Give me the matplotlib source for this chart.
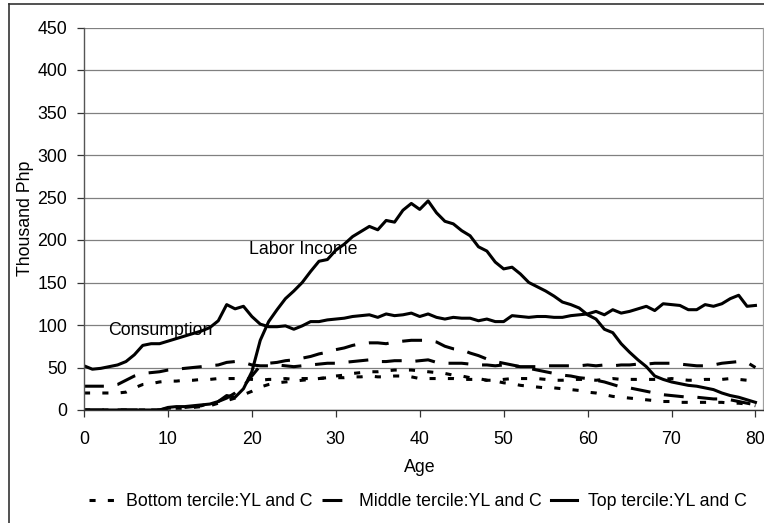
import numpy as np
import matplotlib
matplotlib.use("Agg")
import matplotlib.pyplot as plt
from matplotlib.lines import Line2D

plt.rcParams["font.family"] = ["Liberation Sans", "DejaVu Sans"]

# Age 0..80, thousand Php
ages = np.arange(0, 81)

bottom_yl = [0, 0, 0, 0, 0, 0, 0, 0, 0, 0,
             1, 2, 2, 3, 4, 5, 8, 11, 14, 18,
             22, 27, 30, 32, 33, 34, 35, 36, 37, 38,
             40, 41, 43, 44, 45, 45, 46, 47, 47, 47,
             46, 45, 44, 43, 41, 40, 38, 37, 35, 34,
             32, 31, 29, 28, 27, 26, 26, 25, 24, 23,
             21, 20, 18, 16, 15, 14, 13, 12, 11, 10,
             10, 9, 9, 9, 9, 9, 9, 8, 8, 7, 5]
bottom_c = [20, 20, 20, 20, 20, 21, 26, 30, 31, 33,
            34, 34, 35, 35, 36, 36, 37, 37, 37, 37,
            36, 35, 36, 36, 37, 36, 37, 37, 37, 38,
            38, 38, 39, 39, 40, 39, 39, 40, 40, 39,
            37, 37, 37, 37, 37, 36, 36, 36, 35, 35,
            36, 37, 37, 37, 37, 36, 35, 35, 36, 36,
            36, 35, 36, 37, 36, 36, 36, 36, 36, 36,
            37, 36, 35, 35, 36, 36, 36, 37, 36, 35, 34]

middle_yl = [0, 0, 0, 0, 0, 0, 0, 0, 0, 0,
             2, 3, 3, 4, 5, 8, 10, 14, 20, 28,
             40, 52, 55, 56, 58, 59, 61, 63, 66, 68,
             71, 73, 76, 78, 79, 79, 78, 80, 81, 82,
             82, 82, 80, 75, 72, 71, 67, 64, 60, 57,
             55, 53, 51, 49, 47, 45, 43, 41, 40, 38,
             37, 35, 33, 30, 27, 26, 24, 22, 20, 18,
             17, 16, 15, 15, 14, 13, 13, 12, 10, 8, 6]
middle_c = [28, 28, 28, 28, 30, 35, 40, 43, 44, 45,
            47, 48, 49, 50, 51, 52, 53, 56, 57, 56,
            53, 52, 52, 53, 52, 51, 52, 53, 54, 55,
            55, 56, 57, 58, 59, 57, 57, 58, 58, 57,
            58, 59, 56, 55, 55, 55, 54, 53, 53, 52,
            53, 52, 51, 51, 51, 52, 52, 52, 52, 52,
            53, 52, 53, 52, 53, 53, 54, 54, 55, 55,
            55, 54, 53, 52, 52, 53, 55, 56, 57, 56, 50]

top_yl = [0, 0, 0, 0, 0, 0, 0, 0, 0, 0,
          3, 4, 4, 5, 6, 7, 10, 17, 15, 25,
          45, 82, 104, 118, 131, 140, 150, 163, 175, 177,
          188, 195, 204, 210, 216, 212, 223, 221, 235, 243,
          236, 246, 232, 222, 219, 211, 205, 192, 187, 174,
          166, 168, 160, 150, 145, 140, 134, 127, 124, 120,
          112, 107, 95, 91, 78, 68, 59, 51, 40, 36,
          33, 31, 29, 28, 26, 24, 20, 17, 15, 12, 9]
top_c = [52, 48, 49, 51, 53, 57, 65, 76, 78, 78,
         81, 84, 87, 90, 93, 97, 105, 124, 119, 122,
         110, 101, 98, 98, 99, 95, 99, 104, 104, 106,
         107, 108, 110, 111, 112, 109, 113, 111, 112, 114,
         110, 113, 109, 107, 109, 108, 108, 105, 107, 104,
         104, 111, 110, 109, 110, 110, 109, 109, 111, 112,
         113, 116, 112, 118, 114, 116, 119, 122, 117, 125,
         124, 123, 118, 118, 124, 122, 125, 131, 135, 122, 123]

legend_labels = ["Bottom tercile:YL and C", "Middle tercile:YL and C",
                 "Top tercile:YL and C"]

fig = plt.figure(figsize=(7.64, 5.23), dpi=100)
ax = fig.add_axes([84 / 764, 113 / 523, (763 - 84) / 764, (410 - 27.5) / 523])

lw = 2.2
short = (0, (2, 4))
long_ = (0, (6.5, 4.5))

ax.plot(ages, bottom_yl, color="black", lw=lw, linestyle=short)
l_bot, = ax.plot(ages, bottom_c, color="black", lw=lw, linestyle=short)
ax.plot(ages, middle_yl, color="black", lw=lw, linestyle=long_)
l_mid, = ax.plot(ages, middle_c, color="black", lw=lw, linestyle=long_)
ax.plot(ages, top_yl, color="black", lw=lw)
l_top, = ax.plot(ages, top_c, color="black", lw=lw)

ax.set_xlim(0, 80.9)
ax.set_ylim(0, 450)
ax.set_xticks(range(0, 81, 10))
ax.set_yticks(range(0, 451, 50))
ax.yaxis.grid(True, color="#808080", lw=0.9)
ax.set_axisbelow(True)
ax.tick_params(labelsize=12.8, length=5, width=0.9, color="#333333", direction="out")
ax.tick_params(axis="y", pad=7)
ax.tick_params(axis="x", pad=10)

ax.spines["top"].set_visible(False)
ax.spines["right"].set_color("#a0a0a0")
ax.spines["right"].set_linewidth(0.9)
ax.spines["left"].set_color("#555555")
ax.spines["left"].set_linewidth(1.0)
ax.spines["bottom"].set_color("#333333")
ax.spines["bottom"].set_linewidth(1.0)

ax.text(19.7, 189, "Labor Income", fontsize=12.8, ha="left", va="center")
ax.text(2.9, 94, "Consumption", fontsize=12.8, ha="left", va="center")

fig.text(26 / 764, 1 - 218 / 523, "Thousand Php", rotation=90,
         fontsize=12.8, ha="center", va="center")
fig.text(420 / 764, 1 - 467 / 523, "Age", fontsize=12.8, ha="center", va="center")

fig.legend([l_bot, l_mid, l_top], legend_labels, loc="center",
           bbox_to_anchor=(418 / 764, 21 / 523), ncol=3, frameon=False,
           fontsize=12.8, handlelength=1.5, handletextpad=0.6,
           columnspacing=0.5, borderpad=0.1, borderaxespad=0)

# figure border (left and top visible in the source)
fig.add_artist(Line2D([9 / 764, 9 / 764], [0, 1 - 4 / 523],
                      transform=fig.transFigure, color="#333333", lw=1.2))
fig.add_artist(Line2D([9 / 764, 1], [1 - 4 / 523, 1 - 4 / 523],
                      transform=fig.transFigure, color="#333333", lw=1.2))

fig.savefig("out.png", dpi=100)
